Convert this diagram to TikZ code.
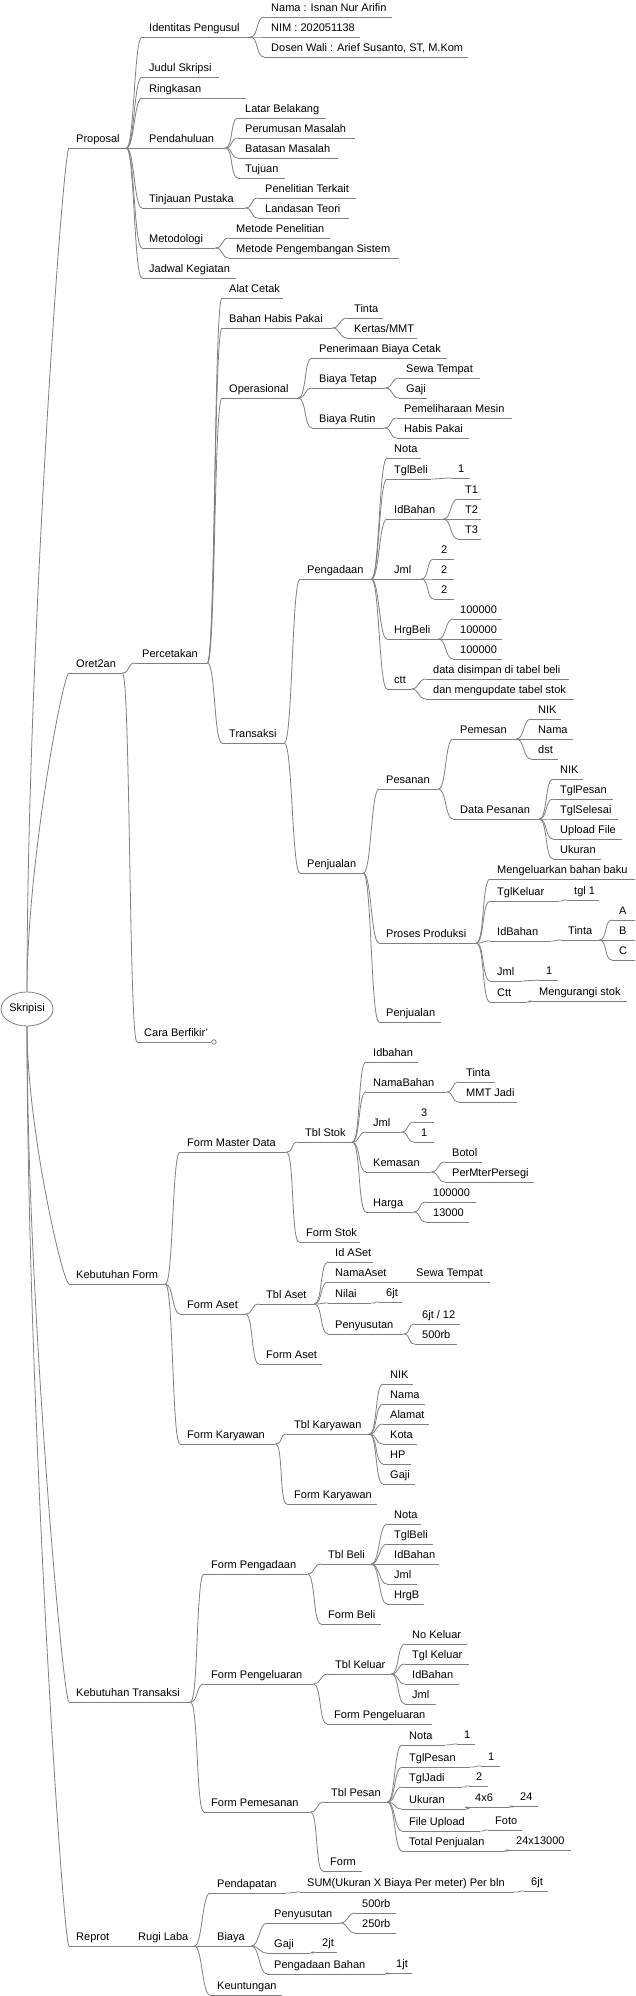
\documentclass[tikz,border=0pt]{standalone}
\usepackage{fontspec}
\setmainfont{Liberation Sans}
\usetikzlibrary{shapes.geometric,calc}
\definecolor{linegray}{RGB}{128,128,128}
\newcommand{\mmitem}[5]{\node[mm] (#1) at (#2,#3) {\hbox to #4pt{\hskip7pt #5\hfil}};}

\begin{document}
\begin{tikzpicture}[x=1pt,y=-1pt,
    mmline/.style={draw=linegray,line width=0.8pt},
    mm/.style={anchor=south west,inner xsep=0pt,inner ysep=5.5pt,text depth=0pt,
      font=\fontsize{11}{13}\selectfont,
      append after command={(\tikzlastnode.south west) edge[mmline] (\tikzlastnode.south east)}},
    fork/.style={mmline,to path={.. controls +(8pt,0) and +(-8pt,0) .. (\tikztotarget)}},
    rootfork/.style={mmline,to path={.. controls ($(\tikztostart)!0.4!(\tikztostart |- \tikztotarget)$) and ([xshift=-6pt]\tikztotarget) .. (\tikztotarget)}}]
    \path[use as bounding box,fill=white] (0,0) rectangle (635,1996);

    \node[draw=linegray,line width=0.8pt,ellipse,minimum width=52pt,minimum height=34pt,inner sep=0pt,font=\fontsize{11}{13}\selectfont] (root) at (27,1009) {Skripisi};

    % Proposal
    \mmitem{proposal}{69}{148}{57}{Proposal}
    \mmitem{idp}{142}{37}{108}{Identitas Pengusul}
    \mmitem{nama}{264}{17}{128}{Nama : Isnan Nur Arifin}
    \mmitem{nim}{264}{37}{96}{NIM : 202051138}
    \mmitem{dosen}{264}{57}{204}{Dosen Wali : Arief Susanto, ST, M.Kom}
    \mmitem{judul}{142}{77}{77}{Judul Skripsi}
    \mmitem{ringkasan}{142}{98}{104}{Ringkasan}
    \mmitem{pendahuluan}{142}{148}{83}{Pendahuluan}
    \mmitem{latar}{238}{118}{88}{Latar Belakang}
    \mmitem{rumusan}{238}{138}{117}{Perumusan Masalah}
    \mmitem{batasan}{238}{158}{100}{Batasan Masalah}
    \mmitem{tujuan}{238}{178}{47}{Tujuan}
    \mmitem{tinjauan}{142}{208}{103}{Tinjauan Pustaka}
    \mmitem{terkait}{258}{198}{98}{Penelitian Terkait}
    \mmitem{landasan}{258}{218}{91}{Landasan Teori}
    \mmitem{metodologi}{142}{248}{73}{Metodologi}
    \mmitem{metpen}{229}{238}{101}{Metode Penelitian}
    \mmitem{metbang}{229}{258}{170}{Metode Pengembangan Sistem}
    \mmitem{jadwal}{142}{278}{94}{Jadwal Kegiatan}

    % Oret2an
    \mmitem{oret}{69}{673}{53}{Oret2an}
    \mmitem{percetakan}{135}{663}{72}{Percetakan}
    \mmitem{alat}{222}{298}{61}{Alat Cetak}
    \mmitem{bahan}{222}{328}{110}{Bahan Habis Pakai}
    \mmitem{tinta}{347}{318}{36}{Tinta}
    \mmitem{kertas}{347}{338}{70}{Kertas/MMT}
    \mmitem{operasional}{222}{398}{76}{Operasional}
    \mmitem{terima}{312}{358}{135}{Penerimaan Biaya Cetak}
    \mmitem{tetap}{312}{388}{73}{Biaya Tetap}
    \mmitem{sewa}{399}{378}{81}{Sewa Tempat}
    \mmitem{gaji}{399}{398}{28}{Gaji}
    \mmitem{rutin}{312}{428}{72}{Biaya Rutin}
    \mmitem{pelihara}{397}{418}{115}{Pemeliharaan Mesin}
    \mmitem{habis}{397}{438}{72}{Habis Pakai}
    \mmitem{transaksi}{222}{743}{62}{Transaksi}
    \mmitem{pengadaan}{300}{579}{71}{Pengadaan}
    \mmitem{nota}{387}{458}{34}{Nota}
    \mmitem{tglbeli}{387}{479}{44}{TglBeli}
    \mmitem{satua}{451}{478}{19}{1}
    \mmitem{idbahan}{387}{519}{56}{IdBahan}
    \mmitem{tsatu}{458}{499}{23}{T1}
    \mmitem{tdua}{458}{519}{23}{T2}
    \mmitem{ttiga}{458}{539}{23}{T3}
    \mmitem{jml}{387}{579}{34}{Jml}
    \mmitem{duaa}{434}{559}{20}{2}
    \mmitem{duab}{434}{579}{20}{2}
    \mmitem{duac}{434}{599}{20}{2}
    \mmitem{hrgbeli}{387}{639}{51}{HrgBeli}
    \mmitem{hrga}{453}{619}{49}{100000}
    \mmitem{hrgb}{453}{639}{49}{100000}
    \mmitem{hrgc}{453}{659}{49}{100000}
    \mmitem{ctt}{387}{689}{24}{ctt}
    \mmitem{simpan}{426}{679}{143}{data disimpan di tabel beli}
    \mmitem{update}{426}{699}{148}{dan mengupdate tabel stok}
    \mmitem{penjualan}{300}{873}{63}{Penjualan}
    \mmitem{pesanan}{379}{789}{59}{Pesanan}
    \mmitem{pemesan}{453}{739}{63}{Pemesan}
    \mmitem{nika}{531}{719}{30}{NIK}
    \mmitem{namaa}{531}{739}{42}{Nama}
    \mmitem{dst}{531}{759}{27}{dst}
    \mmitem{datapesan}{453}{819}{86}{Data Pesanan}
    \mmitem{nikb}{553}{779}{30}{NIK}
    \mmitem{tglpesan}{553}{799}{60}{TglPesan}
    \mmitem{tglselesai}{553}{819}{65}{TglSelesai}
    \mmitem{upload}{553}{839}{69}{Upload File}
    \mmitem{ukuran}{553}{859}{48}{Ukuran}
    \mmitem{produksi}{379}{943}{97}{Proses Produksi}
    \mmitem{keluarkan}{490}{879}{145}{Mengeluarkan bahan baku}
    \mmitem{tglkeluar}{490}{901}{69}{TglKeluar}
    \mmitem{tglsatu}{567}{900}{32}{tgl 1}
    \mmitem{idbahanb}{490}{941}{61}{IdBahan}
    \mmitem{tintab}{561}{940}{38}{Tinta}
    \mmitem{opta}{612}{920}{23}{A}
    \mmitem{optb}{612}{940}{23}{B}
    \mmitem{optc}{612}{960}{23}{C}
    \mmitem{jmlb}{490}{981}{32}{Jml}
    \mmitem{satub}{539}{980}{19}{1}
    \mmitem{cttb}{490}{1002}{37}{Ctt}
    \mmitem{kurangi}{532}{1001}{95}{Mengurangi stok}
    \mmitem{penjualanb}{379}{1022}{62}{Penjualan}
    \mmitem{cara}{137}{1042}{74}{Cara Berfikir'}
    \draw[mmline,fill=white] ([xshift=2.5pt]cara.south east) circle (2.3pt);

    % Kebutuhan Form
    \mmitem{kform}{69}{1284}{96}{Kebutuhan Form}
    \mmitem{master}{180}{1152}{106}{Form Master Data}
    \mmitem{tblstok}{298}{1142}{54}{Tbl Stok}
    \mmitem{idbahanc}{366}{1062}{52}{Idbahan}
    \mmitem{namabahan}{366}{1092}{80}{NamaBahan}
    \mmitem{tintac}{459}{1082}{36}{Tinta}
    \mmitem{mmt}{459}{1102}{58}{MMT Jadi}
    \mmitem{jmlc}{366}{1132}{35}{Jml}
    \mmitem{tiga}{414}{1122}{20}{3}
    \mmitem{satuc}{414}{1142}{20}{1}
    \mmitem{kemasan}{366}{1172}{65}{Kemasan}
    \mmitem{botol}{445}{1162}{37}{Botol}
    \mmitem{permeter}{445}{1182}{89}{PerMterPersegi}
    \mmitem{harga}{366}{1212}{47}{Harga}
    \mmitem{hrgd}{426}{1202}{50}{100000}
    \mmitem{hrge}{426}{1222}{43}{13000}
    \mmitem{formstok}{299}{1242}{61}{Form Stok}
    \mmitem{aset}{180}{1314}{65}{Form Aset}
    \mmitem{tblaset}{259}{1304}{55}{Tbl Aset}
    \mmitem{idaset}{328}{1262}{45}{Id ASet}
    \mmitem{namaaset}{328}{1282}{73}{NamaAset}
    \mmitem{sewab}{409}{1282}{81}{Sewa Tempat}
    \mmitem{nilai}{328}{1303}{43}{Nilai}
    \mmitem{enama}{379}{1302}{23}{6jt}
    \mmitem{susut}{328}{1334}{75}{Penyusutan}
    \mmitem{bagi}{415}{1324}{45}{6jt / 12}
    \mmitem{lima}{415}{1344}{42}{500rb}
    \mmitem{formaset}{259}{1364}{63}{Form Aset}
    \mmitem{karyawan}{180}{1444}{95}{Form Karyawan}
    \mmitem{tblkary}{287}{1434}{82}{Tbl Karyawan}
    \mmitem{nikc}{383}{1384}{30}{NIK}
    \mmitem{namac}{383}{1404}{42}{Nama}
    \mmitem{alamat}{383}{1424}{46}{Alamat}
    \mmitem{kota}{383}{1444}{34}{Kota}
    \mmitem{hp}{383}{1464}{28}{HP}
    \mmitem{gajic}{383}{1484}{32}{Gaji}
    \mmitem{formkary}{287}{1504}{90}{Form Karyawan}

    % Kebutuhan Transaksi
    \mmitem{ktrans}{69}{1702}{121}{Kebutuhan Transaksi}
    \mmitem{fpengadaan}{204}{1574}{103}{Form Pengadaan}
    \mmitem{tblbeli}{321}{1564}{50}{Tbl Beli}
    \mmitem{notab}{387}{1524}{34}{Nota}
    \mmitem{tglbelib}{387}{1544}{46}{TglBeli}
    \mmitem{idbahand}{387}{1564}{52}{IdBahan}
    \mmitem{jmld}{387}{1584}{30}{Jml}
    \mmitem{hrgbb}{387}{1604}{37}{HrgB}
    \mmitem{formbeli}{321}{1624}{60}{Form Beli}
    \mmitem{fkeluar}{204}{1684}{109}{Form Pengeluaran}
    \mmitem{tblkeluar}{328}{1674}{63}{Tbl Keluar}
    \mmitem{nokeluar}{405}{1644}{62}{No Keluar}
    \mmitem{tglkeluarb}{405}{1664}{64}{Tgl Keluar}
    \mmitem{idbahane}{405}{1684}{54}{IdBahan}
    \mmitem{jmle}{405}{1704}{31}{Jml}
    \mmitem{formkeluar}{327}{1724}{105}{Form Pengeluaran}
    \mmitem{fpesan}{204}{1812}{106}{Form Pemesanan}
    \mmitem{tblpesan}{324}{1802}{63}{Tbl Pesan}
    \mmitem{notac}{402}{1745}{43}{Nota}
    \mmitem{satud}{457}{1744}{18}{1}
    \mmitem{tglpesanb}{402}{1767}{68}{TglPesan}
    \mmitem{satue}{481}{1766}{19}{1}
    \mmitem{tgljadi}{402}{1787}{60}{TglJadi}
    \mmitem{duad}{469}{1786}{19}{2}
    \mmitem{ukuranb}{402}{1809}{64}{Ukuran}
    \mmitem{empat}{468}{1807}{42}{4x6}
    \mmitem{duaempat}{513}{1806}{25}{24}
    \mmitem{fileup}{402}{1831}{78}{File Upload}
    \mmitem{foto}{488}{1830}{34}{Foto}
    \mmitem{total}{402}{1851}{103}{Total Penjualan}
    \mmitem{kali}{509}{1850}{62}{24x13000}
    \mmitem{form}{323}{1871}{39}{Form}

    % Reprot
    \mmitem{reprot}{69}{1946}{48}{Reprot}
    \mmitem{rugilaba}{131}{1946}{63}{Rugi Laba}
    \mmitem{pendapatan}{210}{1893}{76}{Pendapatan}
    \mmitem{sum}{300}{1892}{214}{SUM(Ukuran X Biaya Per meter) Per bln}
    \mmitem{enamb}{524}{1891}{24}{6jt}
    \mmitem{biaya}{210}{1946}{41}{Biaya}
    \mmitem{susutb}{267}{1923}{73}{Penyusutan}
    \mmitem{rlima}{355}{1913}{41}{500rb}
    \mmitem{rdua}{355}{1933}{41}{250rb}
    \mmitem{gajid}{267}{1953}{43}{Gaji}
    \mmitem{duajt}{315}{1952}{22}{2jt}
    \mmitem{adabahan}{267}{1974}{118}{Pengadaan Bahan}
    \mmitem{satujt}{389}{1973}{23}{1jt}
    \mmitem{untung}{210}{1995}{72}{Keuntungan}

    \foreach \c in {proposal,oret}
        \draw[rootfork] (root.north) to (\c.south west);
    \foreach \c in {kform,ktrans,reprot}
        \draw[rootfork] (root.south) to (\c.south west);

    \foreach \p/\c in {proposal/idp,proposal/judul,proposal/ringkasan,proposal/pendahuluan,
        proposal/tinjauan,proposal/metodologi,proposal/jadwal,idp/nama,idp/nim,idp/dosen,
        pendahuluan/latar,pendahuluan/rumusan,pendahuluan/batasan,pendahuluan/tujuan,
        tinjauan/terkait,tinjauan/landasan,metodologi/metpen,metodologi/metbang,
        oret/percetakan,oret/cara,percetakan/alat,percetakan/bahan,percetakan/operasional,
        percetakan/transaksi,bahan/tinta,bahan/kertas,operasional/terima,operasional/tetap,
        operasional/rutin,tetap/sewa,tetap/gaji,rutin/pelihara,rutin/habis,
        transaksi/pengadaan,transaksi/penjualan,pengadaan/nota,pengadaan/tglbeli,
        pengadaan/idbahan,pengadaan/jml,pengadaan/hrgbeli,pengadaan/ctt,tglbeli/satua,
        idbahan/tsatu,idbahan/tdua,idbahan/ttiga,jml/duaa,jml/duab,jml/duac,
        hrgbeli/hrga,hrgbeli/hrgb,hrgbeli/hrgc,ctt/simpan,ctt/update,
        penjualan/pesanan,penjualan/produksi,penjualan/penjualanb,pesanan/pemesan,
        pesanan/datapesan,pemesan/nika,pemesan/namaa,pemesan/dst,datapesan/nikb,
        datapesan/tglpesan,datapesan/tglselesai,datapesan/upload,datapesan/ukuran,
        produksi/keluarkan,produksi/tglkeluar,produksi/idbahanb,produksi/jmlb,produksi/cttb,
        tglkeluar/tglsatu,idbahanb/tintab,tintab/opta,tintab/optb,tintab/optc,
        jmlb/satub,cttb/kurangi,
        kform/master,kform/aset,kform/karyawan,master/tblstok,master/formstok,
        tblstok/idbahanc,tblstok/namabahan,tblstok/jmlc,tblstok/kemasan,tblstok/harga,
        namabahan/tintac,namabahan/mmt,jmlc/tiga,jmlc/satuc,kemasan/botol,kemasan/permeter,
        harga/hrgd,harga/hrge,aset/tblaset,aset/formaset,tblaset/idaset,tblaset/namaaset,
        tblaset/nilai,tblaset/susut,namaaset/sewab,nilai/enama,susut/bagi,susut/lima,
        karyawan/tblkary,karyawan/formkary,tblkary/nikc,tblkary/namac,tblkary/alamat,
        tblkary/kota,tblkary/hp,tblkary/gajic,
        ktrans/fpengadaan,ktrans/fkeluar,ktrans/fpesan,fpengadaan/tblbeli,fpengadaan/formbeli,
        tblbeli/notab,tblbeli/tglbelib,tblbeli/idbahand,tblbeli/jmld,tblbeli/hrgbb,
        fkeluar/tblkeluar,fkeluar/formkeluar,tblkeluar/nokeluar,tblkeluar/tglkeluarb,
        tblkeluar/idbahane,tblkeluar/jmle,fpesan/tblpesan,fpesan/form,tblpesan/notac,
        tblpesan/tglpesanb,tblpesan/tgljadi,tblpesan/ukuranb,tblpesan/fileup,tblpesan/total,
        notac/satud,tglpesanb/satue,tgljadi/duad,ukuranb/empat,empat/duaempat,fileup/foto,
        total/kali,
        reprot/rugilaba,rugilaba/pendapatan,rugilaba/biaya,rugilaba/untung,pendapatan/sum,
        sum/enamb,biaya/susutb,biaya/gajid,biaya/adabahan,susutb/rlima,susutb/rdua,
        gajid/duajt,adabahan/satujt}
        \draw[fork] (\p.south east) to (\c.south west);
\end{tikzpicture}
\end{document}
